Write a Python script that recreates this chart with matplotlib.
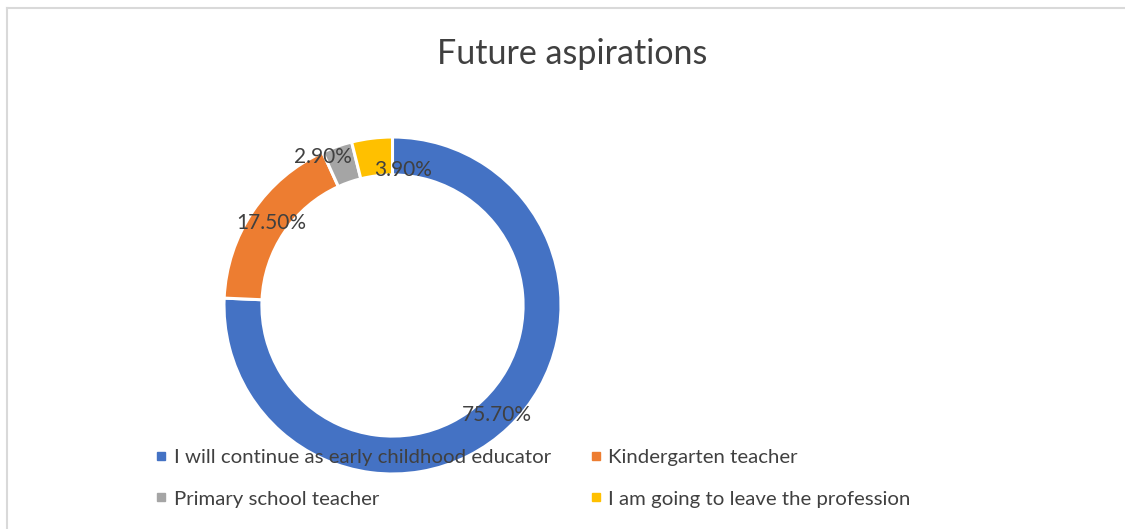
import matplotlib
matplotlib.use("Agg")
import matplotlib.pyplot as plt
import numpy as np
from matplotlib.lines import Line2D

categories = ["I will continue as early childhood educator", "Kindergarten teacher",
              "Primary school teacher", "I am going to leave the profession"]
values = [75.7, 17.5, 2.9, 3.9]
colors = ["#4472C4", "#ED7D31", "#A5A5A5", "#FFC000"]
title = "Future aspirations"

FONT = ["Lato", "DejaVu Sans"]
TXT = "#404040"

W, H = 1125, 529
fig = plt.figure(figsize=(W / 100, H / 100), dpi=100)

# frame (left and top edges only visible)
fx, fy = 6.5 / W, 1 - 7.5 / H
fig.add_artist(Line2D([fx, fx], [0, fy], transform=fig.transFigure, color="#D9D9D9", linewidth=1.5))
fig.add_artist(Line2D([fx, 1], [fy, fy], transform=fig.transFigure, color="#D9D9D9", linewidth=1.5))

cx, cy, R = 392.5, 305.5, 168.5
ax = fig.add_axes([(cx - R) / W, (H - cy - R) / H, 2 * R / W, 2 * R / H])

width = 0.225
wedges, _ = ax.pie(values, colors=colors, startangle=90, counterclock=False, radius=1,
                   wedgeprops=dict(width=width, edgecolor="white", linewidth=2.2))
ax.set_xlim(-1, 1)
ax.set_ylim(-1, 1)
ax.set_aspect("equal")
ax.axis("off")

label_r = [0.90, 0.87, 0.975, 0.807]
label_dang = [0, 0, 5.8, -11.4]
for w, v, r, da in zip(wedges, values, label_r, label_dang):
    ang = np.deg2rad((w.theta1 + w.theta2) / 2 + da)
    ax.text(r * np.cos(ang), r * np.sin(ang), f"{v:.2f}%", ha="center", va="center",
            fontsize=15, color=TXT, family=FONT)

fig.text(572 / W, 1 - 54 / H, title, ha="center", va="center", fontsize=24.5, color=TXT, family=FONT)

handles = [Line2D([], [], marker="s", linestyle="none", markersize=5.5, markerfacecolor=c,
                  markeredgecolor=c) for c in colors]
order = [0, 2, 1, 3]
leg = fig.legend([handles[i] for i in order], [categories[i] for i in order], ncol=2, loc="center left",
                 bbox_to_anchor=(138 / W, 1 - 478 / H), frameon=False,
                 prop=dict(family=FONT, size=14.7), labelcolor=TXT,
                 handlelength=0.5, handletextpad=0.35, columnspacing=1.95, labelspacing=1.2)

fig.savefig("out.png", dpi=100, facecolor="white")
